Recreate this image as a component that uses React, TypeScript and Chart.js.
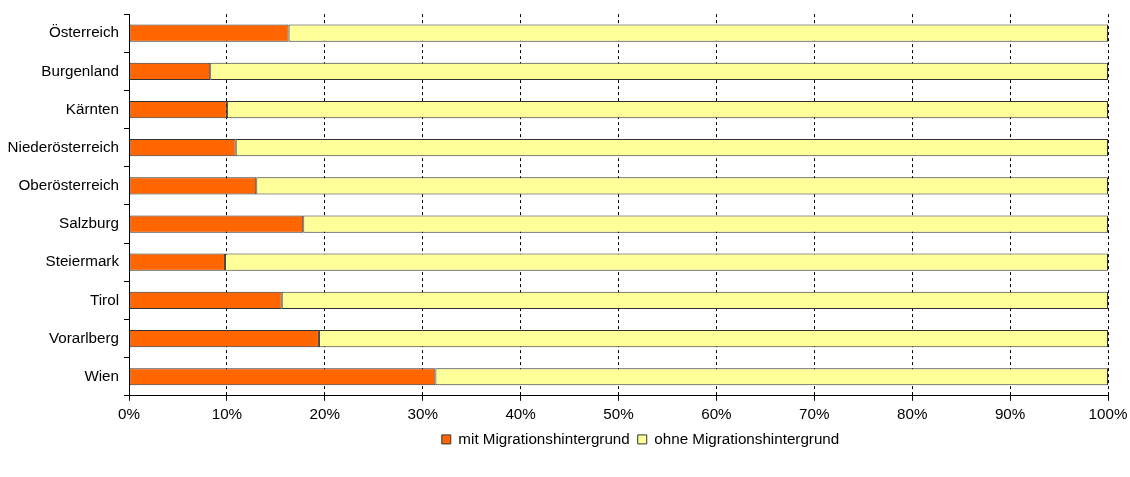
import React, { useEffect, useRef } from "react";
import { Chart, registerables } from "chart.js";

Chart.register(...registerables);

const categories = [
  "Österreich",
  "Burgenland",
  "Kärnten",
  "Niederösterreich",
  "Oberösterreich",
  "Salzburg",
  "Steiermark",
  "Tirol",
  "Vorarlberg",
  "Wien",
];

const mitMigration = [16.3, 8.3, 10.0, 10.9, 13.0, 17.8, 9.8, 15.6, 19.4, 31.3];
const ohneMigration = [83.7, 91.7, 90.0, 89.1, 87.0, 82.2, 90.2, 84.4, 80.6, 68.7];

const seriesLabels = ["mit Migrationshintergrund", "ohne Migrationshintergrund"];
const FONT = "'Liberation Sans', Arial, sans-serif";
const FONT_SIZE = 15.2;

export default function App() {
  const ref = useRef<HTMLCanvasElement | null>(null);

  useEffect(() => {
    document.body.style.margin = "0";
    if (!ref.current) return;
    const chart = new Chart(ref.current, {
      type: "bar",
      data: {
        labels: categories,
        datasets: [
          {
            label: seriesLabels[0],
            data: mitMigration,
            backgroundColor: "#FF6600",
            borderColor: "#333333",
            borderWidth: 1,
            borderSkipped: false,
            barPercentage: 0.9,
            categoryPercentage: 0.5,
          },
          {
            label: seriesLabels[1],
            data: ohneMigration,
            backgroundColor: "#FFFF99",
            borderColor: "#333333",
            borderWidth: 1,
            borderSkipped: false,
            barPercentage: 0.9,
            categoryPercentage: 0.5,
          },
        ],
      },
      options: {
        indexAxis: "y",
        animation: false,
        responsive: false,
        maintainAspectRatio: false,
        layout: { padding: { top: 14, right: 22, left: 0, bottom: 20 } },
        scales: {
          x: {
            stacked: true,
            min: 0,
            max: 100,
            ticks: {
              stepSize: 10,
              callback: (v: any) => v + "%",
              color: "#000",
              font: { family: FONT, size: FONT_SIZE },
              padding: 5,
            },
            grid: {
              color: "#000",
              lineWidth: 1,
              tickLength: 5,
              tickColor: "#000",
              tickBorderDash: [],
            },
            border: { display: true, color: "#000", width: 1, dash: [3, 3] },
            afterFit: (s: any) => {
              s.height = 28;
              s.paddingLeft = 0;
              s.paddingRight = 0;
            },
          },
          y: {
            stacked: true,
            ticks: {
              color: "#000",
              font: { family: FONT, size: FONT_SIZE },
              padding: 5,
            },
            grid: {
              drawOnChartArea: false,
              drawTicks: true,
              tickLength: 5,
              tickColor: "#000",
              offset: true,
            },
            border: { display: true, color: "#000", width: 1 },
            afterFit: (s: any) => {
              s.width = 129;
            },
          },
        },
        plugins: {
          legend: {
            position: "bottom",
            fullSize: false,
            labels: {
              boxWidth: 9,
              boxHeight: 9,
              color: "#000",
              font: { family: FONT, size: FONT_SIZE },
              padding: 8,
            },
          },
          tooltip: { enabled: false },
        },
      },
      plugins: [
        {
          id: "dashGrid",
          beforeDraw: (c: any) => {
            c.options.scales.x.grid.borderDash = [3, 3];
          },
        },
        {
          id: "legendShift",
          afterLayout: (c: any) => {
            if (c.legend) {
              c.legend.left += 22;
              c.legend.right += 22;
            }
          },
        },
      ],
    } as any);
    return () => chart.destroy();
  }, []);

  return (
    <div style={{ position: "absolute", left: 0, top: 0, width: 1130, height: 477, background: "#fff" }}>
      <canvas ref={ref} width={1130} height={477} style={{ width: 1130, height: 477 }} />
    </div>
  );
}
